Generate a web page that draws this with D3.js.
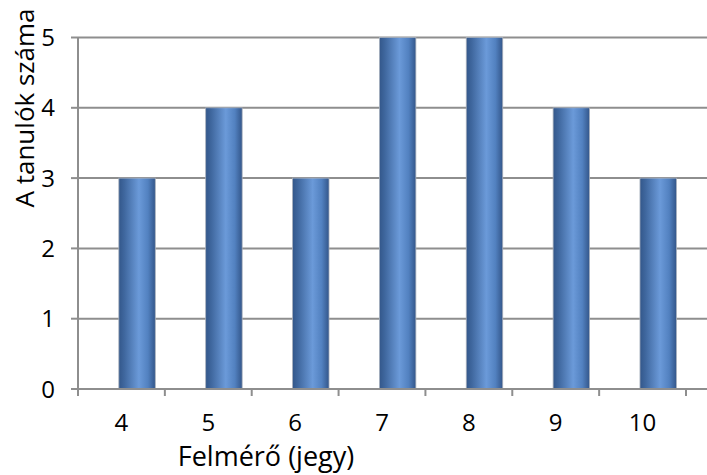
<!DOCTYPE html>
<html lang="hu">
<head>
    <meta charset="UTF-8">
    <title>Felmérő</title>
    <script src="https://d3js.org/d3.v7.min.js"></script>
    <style>
        body { margin: 0; background: #fff; }
        text { font-family: "Open Sans", sans-serif; fill: #000; }
    </style>
</head>
<body>
    <svg id="chart" width="707" height="475"></svg>

    <script>
        // data
        const grades = ["4", "5", "6", "7", "8", "9", "10"];
        const students = [3, 4, 3, 5, 5, 4, 3];
        const yTicks = [0, 1, 2, 3, 4, 5];

        const svg = d3.select("#chart");
        const plotLeft = 78, plotRight = 686, plotTop = 37.5, plotBottom = 389;

        const x = d3.scaleBand().domain(grades).range([plotLeft, plotRight]);
        const y = d3.scaleLinear().domain([0, 5]).range([plotBottom, plotTop]);

        // cylinder-ish gradient
        const grad = svg.append("defs").append("linearGradient")
            .attr("id", "barGrad").attr("x1", "0%").attr("x2", "100%");
        [["0%", "#33578a"], ["15%", "#3f679e"], ["55%", "#6b9ad9"], ["80%", "#5281c0"], ["100%", "#33568a"]]
            .forEach(s => grad.append("stop").attr("offset", s[0]).attr("stop-color", s[1]));

        // gridlines
        svg.append("g").selectAll("line")
            .data(yTicks.filter(d => d > 0))
            .enter().append("line")
            .attr("x1", plotLeft).attr("x2", 707)
            .attr("y1", d => y(d)).attr("y2", d => y(d))
            .attr("stroke", "#8e8e8e").attr("stroke-width", 2);

        // bars (shifted right inside the band, like the original)
        svg.append("g").selectAll("rect")
            .data(students)
            .enter().append("rect")
            .attr("x", (d, i) => x(grades[i]) + x.bandwidth() * 0.47)
            .attr("width", x.bandwidth() * 0.42)
            .attr("y", d => y(d))
            .attr("height", d => y(0) - y(d))
            .attr("fill", "url(#barGrad)")
            .attr("stroke", "#a9b1bd").attr("stroke-width", 0.8);

        // y axis
        const yAxis = svg.append("g");
        yAxis.append("line")
            .attr("x1", plotLeft).attr("x2", plotLeft).attr("y1", plotTop).attr("y2", plotBottom + 7)
            .attr("stroke", "#8e8e8e").attr("stroke-width", 2);
        yAxis.selectAll("line.tick").data(yTicks).enter().append("line")
            .attr("class", "tick")
            .attr("x1", plotLeft - 7).attr("x2", plotLeft)
            .attr("y1", d => y(d)).attr("y2", d => y(d))
            .attr("stroke", "#8e8e8e").attr("stroke-width", 2);
        yAxis.selectAll("text").data(yTicks).enter().append("text")
            .attr("x", 55).attr("y", d => y(d))
            .attr("dy", "0.36em")
            .attr("text-anchor", "end")
            .style("font-size", "24px")
            .text(d => d);

        // x axis
        const xAxis = svg.append("g");
        xAxis.append("line")
            .attr("x1", plotLeft).attr("x2", 707).attr("y1", plotBottom).attr("y2", plotBottom)
            .attr("stroke", "#8e8e8e").attr("stroke-width", 2);
        xAxis.selectAll("line.tick").data(grades.concat(["end"])).enter().append("line")
            .attr("class", "tick")
            .attr("x1", (d, i) => plotLeft + i * x.bandwidth())
            .attr("x2", (d, i) => plotLeft + i * x.bandwidth())
            .attr("y1", plotBottom).attr("y2", plotBottom + 7)
            .attr("stroke", "#8e8e8e").attr("stroke-width", 2);
        xAxis.selectAll("text").data(grades).enter().append("text")
            .attr("x", d => x(d) + x.bandwidth() / 2)
            .attr("y", 431)
            .attr("text-anchor", "middle")
            .style("font-size", "24px")
            .text(d => d);

        // axis titles
        svg.append("text")
            .attr("x", 266).attr("y", 466)
            .attr("text-anchor", "middle")
            .style("font-size", "27px")
            .text("Felmérő (jegy)");

        svg.append("text")
            .attr("transform", "translate(34,108) rotate(-90)")
            .attr("text-anchor", "middle")
            .style("font-size", "26px")
            .text("A tanulók száma");
    </script>
</body>
</html>
